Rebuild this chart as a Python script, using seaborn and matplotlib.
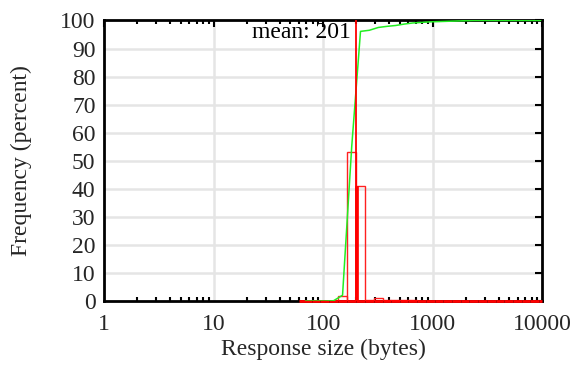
import numpy as np
import matplotlib
matplotlib.use("Agg")
import matplotlib.pyplot as plt
import seaborn as sns

# Histogram bins (bytes) and the share of responses in each bin (percent)
bin_edges = [60, 79, 94, 113, 136, 166, 200, 240, 290, 350, 420, 500, 600,
             720, 870, 1040, 1250, 1500, 1800, 2160, 2600, 3120, 3740, 4490,
             5390, 6470, 7760, 9310, 10000]
bin_percent = [0, 0, 0, 0.1, 2, 53, 41, 0.4, 1, 0.4, 0.3, 0.5, 0.4,
               0.2, 0.2, 0.1, 0.1, 0.1, 0.1, 0.1, 0, 0, 0, 0,
               0, 0, 0, 0]
# Narrow highlighted bucket around the mean
peak_range = [197, 207]
peak_percent = 41
mean_size = 201

x_ticks = [1, 10, 100, 1000, 10000]
x_tick_labels = ["1", "10", "100", "1000", "10000"]
y_ticks = list(range(0, 101, 10))

sns.set_theme(style="white")
plt.rcParams["font.family"] = ["Liberation Serif", "DejaVu Serif"]
FS = 17

edges = np.array(bin_edges, dtype=float)
lefts = edges[:-1]
widths = np.diff(edges)
centers = np.sqrt(edges[:-1] * edges[1:])
cumulative = np.cumsum(bin_percent)

fig = plt.figure(figsize=(5.74, 3.65), dpi=100)
ax = fig.add_axes([0.181, 0.175, 0.764, 0.769])

ax.set_xscale("log")
ax.set_xlim(1, 10000)
ax.set_ylim(0, 100)

# grid
for gx in x_ticks[1:-1]:
    ax.axvline(gx, color="#e5e5e5", lw=1.8, zorder=0)
for gy in y_ticks[1:-1]:
    ax.axhline(gy, color="#e5e5e5", lw=1.8, zorder=0)

# histogram outlines
ax.bar(lefts, bin_percent, width=widths, align="edge", fill=False,
       edgecolor="#ff2020", linewidth=1.0, zorder=3)
ax.bar(lefts, [0] * len(lefts), width=widths, align="edge", fill=False,
       edgecolor="red", linewidth=2.0, zorder=3, clip_on=False)
ax.bar([peak_range[0]], [peak_percent], width=[peak_range[1] - peak_range[0]],
       align="edge", color="red", edgecolor="red", linewidth=0.5, zorder=3)

# cumulative distribution
sns.lineplot(x=centers, y=cumulative, ax=ax, color="#22ee22", lw=1.1,
             zorder=4)

# mean marker
ax.axvline(mean_size, color="red", lw=1.3, zorder=5)
ax.text(mean_size, 95.8, "mean: %d " % mean_size, ha="right", va="center",
        fontsize=FS, color="black", zorder=6)

ax.set_xticks(x_ticks)
ax.set_xticklabels(x_tick_labels)
ax.set_yticks(y_ticks)
ax.tick_params(axis="both", which="major", direction="in", length=5, width=1.5,
               top=True, right=True, labelsize=FS, pad=9, color="black")
ax.tick_params(axis="y", which="major", pad=6)
ax.tick_params(axis="x", which="minor", direction="in", length=3, width=1.5,
               top=True, bottom=True, color="black")
ax.xaxis.set_minor_locator(matplotlib.ticker.LogLocator(base=10, subs=np.arange(2, 10), numticks=20))
ax.xaxis.set_minor_formatter(matplotlib.ticker.NullFormatter())

for s in ax.spines.values():
    s.set_color("black")
    s.set_linewidth(2)
    s.set_zorder(2.5)

ax.set_xlabel("Response size (bytes)", fontsize=FS, labelpad=3)
ax.set_ylabel("Frequency (percent)", fontsize=FS, labelpad=20)

fig.savefig("out.png", dpi=100)
